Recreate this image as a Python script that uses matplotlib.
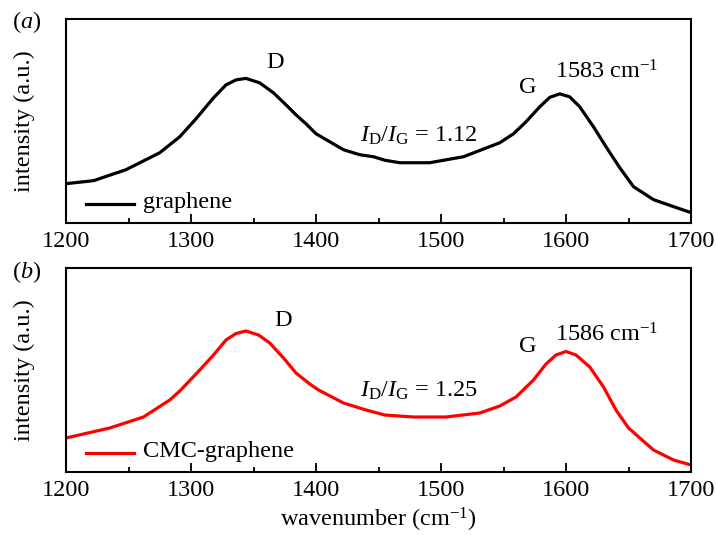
import matplotlib
matplotlib.use("Agg")
import matplotlib.pyplot as plt
from matplotlib.ticker import MultipleLocator

plt.rcParams['font.family'] = ['Liberation Serif', 'DejaVu Serif']
plt.rcParams['mathtext.fontset'] = 'custom'
plt.rcParams['mathtext.rm'] = 'Liberation Serif'
plt.rcParams['mathtext.it'] = 'Liberation Serif:italic'

# Raman spectra (arbitrary intensity units)
wn_graphene = [1200, 1222, 1248, 1275, 1291, 1304, 1318, 1328, 1336, 1344, 1355,
               1366, 1376, 1384, 1392, 1400, 1422, 1435, 1446, 1455, 1467, 1491,
               1518, 1547, 1558, 1568, 1579, 1587, 1595, 1603, 1611, 1622, 1632,
               1643, 1654, 1670, 1686, 1700]
int_graphene = [39, 42, 53, 70, 86, 104, 125, 138, 143, 144.5, 140,
                130, 118, 108, 99, 89, 73, 68, 66, 62.5, 60, 60,
                66, 80, 89, 101, 116, 125.5, 129, 126, 116, 96, 76,
                55, 36, 23, 16, 10]

wn_cmc = [1200, 1235, 1262, 1283, 1291, 1304, 1318, 1328, 1336, 1344, 1354,
          1363, 1374, 1384, 1395, 1402, 1422, 1440, 1455, 1478, 1504, 1531,
          1547, 1560, 1574, 1584, 1592, 1600, 1608, 1619, 1630, 1640, 1650,
          1670, 1686, 1700]
int_cmc = [34, 44, 55, 72, 81, 98, 117, 132, 138.5, 141, 137,
           129, 114, 99, 88, 82, 69, 62, 57, 55, 55, 59,
           66, 75, 92, 108, 117, 120.5, 117, 105, 85, 62, 44,
           22, 12, 7]

fig = plt.figure(figsize=(7.16, 5.35), dpi=100)
ax_a = fig.add_axes([66 / 716, 1 - 222.6 / 535, 625 / 716, 203.6 / 535])
ax_b = fig.add_axes([66 / 716, 1 - 472 / 535, 625 / 716, 204 / 535])

panels = [
    (ax_a, wn_graphene, int_graphene, 'black', 'graphene', '1583', '1.12',
     (1367, 160), (1569, 135), (1591, 151), (1435, 81)),
    (ax_b, wn_cmc, int_cmc, '#ff0000', 'CMC-graphene', '1586', '1.25',
     (1374, 152), (1569, 125), (1591, 137), (1435, 75)),
]

fs = 17.5
for ax, x, y, color, name, gpos, ratio, dxy, gxy, pxy, rxy in panels:
    ax.plot(x, y, color=color, lw=2.3, solid_capstyle='round', solid_joinstyle='round')
    ax.set_xlim(1200, 1700)
    ax.set_ylim(0, 204)
    ax.xaxis.set_major_locator(MultipleLocator(100))
    ax.xaxis.set_minor_locator(MultipleLocator(50))
    ax.tick_params(axis='x', which='major', direction='in', length=6.5, width=1.3,
                   labelsize=fs, pad=6, top=False)
    ax.tick_params(axis='x', which='minor', direction='in', length=3.5, width=1.3, top=False)
    ax.set_yticks([])
    for sp in ax.spines.values():
        sp.set_linewidth(1.5)
    ax.set_ylabel('intensity (a.u.)', fontsize=fs, labelpad=22)

    ax.text(dxy[0], dxy[1], 'D', fontsize=fs, ha='center', va='center')
    ax.text(gxy[0], gxy[1], 'G', fontsize=fs, ha='center', va='center')
    ax.text(pxy[0], pxy[1], gpos + r' cm$^{-1}$', fontsize=fs, ha='left', va='center')
    ax.text(rxy[0], rxy[1], r'$I_{\mathrm{D}}/I_{\mathrm{G}}$' + ' = ' + ratio,
            fontsize=fs, ha='left', va='baseline')

    ax.plot([1216, 1254], [19, 19], color=color, lw=2.3)
    ax.text(1262, 20, name, fontsize=fs, ha='left', va='center')

ax_b.set_xlabel(r'wavenumber (cm$^{-1}$)', fontsize=fs, labelpad=3)

fig.text(12 / 716, 1 - 22 / 535, r'($a$)', fontsize=fs, va='center', ha='left')
fig.text(12 / 716, 1 - 272 / 535, r'($b$)', fontsize=fs, va='center', ha='left')

fig.savefig('out.png', dpi=100)
